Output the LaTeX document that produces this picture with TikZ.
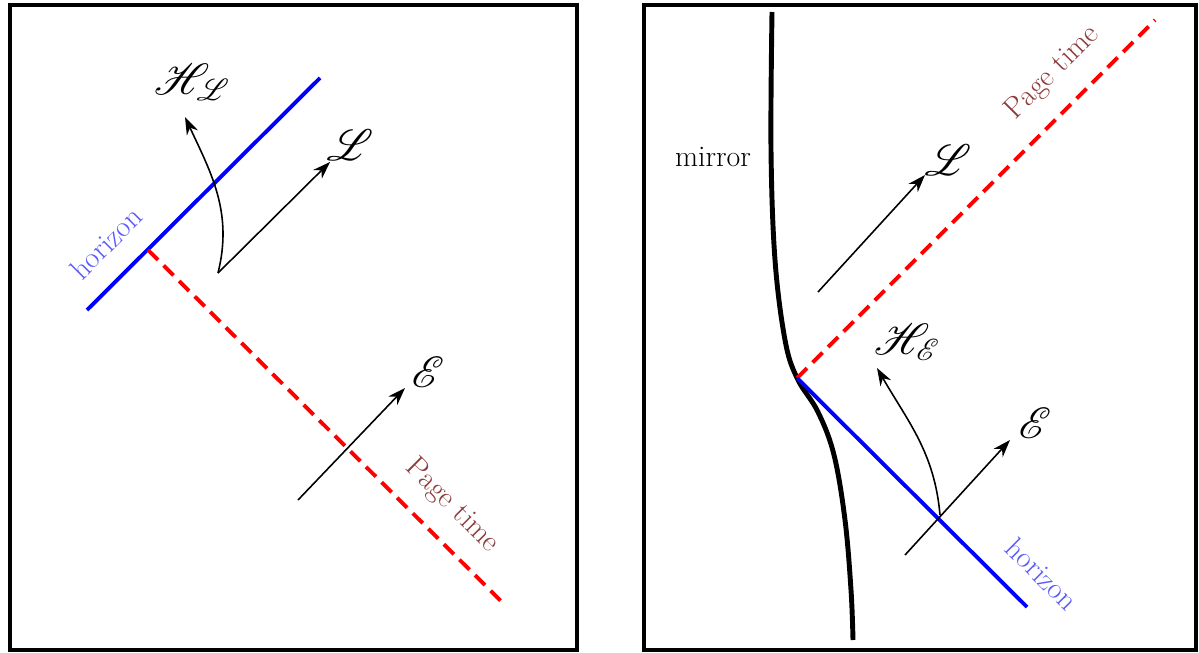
\documentclass[tikz,border=0pt]{standalone}
\usepackage{mathrsfs}
\usetikzlibrary{arrows.meta, positioning, calc}
\definecolor{horizonblue}{RGB}{0, 0, 255}
\definecolor{labelblue}{RGB}{90, 90, 250}
\definecolor{pagered}{RGB}{255, 0, 0}
\definecolor{labelbrown}{RGB}{140, 60, 60}

\begin{document}
\begin{tikzpicture}[
  x=0.02cm, y=0.02cm,
  frame/.style={draw=black, line width=2.2pt},
  hline/.style={draw=horizonblue, line width=2.2pt},
  pline/.style={draw=pagered, line width=2.2pt, dash pattern=on 8pt off 4.5pt},
  mline/.style={draw=black, line width=2.8pt},
  arr/.style={-{Stealth[length=10pt, width=7pt]}, line width=0.9pt},
  lbl/.style={font=\fontsize{17}{20}\selectfont, inner sep=1pt},
  mlbl/.style={font=\fontsize{23}{26}\selectfont, inner sep=1pt},
  hlbl/.style={lbl, text=labelblue},
  plbl/.style={lbl, text=labelbrown}
]
\useasboundingbox (0,0) rectangle (1199,-652);

% left panel
\draw[frame] (10,-5) rectangle (577,-650);
\coordinate (lhA) at (87,-310);
\coordinate (lhB) at (320,-78);
\coordinate (lp0) at (148,-250);
\coordinate (lp1) at (505,-605);
\draw[hline] (lhA) -- (lhB);
\draw[pline] (lp0) -- (lp1);

\coordinate (lo) at (218,-273);
\node[mlbl] (lL) at (350,-145) {$\mathscr{L}$};
\node[mlbl] (lH) at (192,-82) {$\mathscr{H}_{\mathscr{L}}$};
\draw[arr] (lo) -- (330,-162) coordinate (lLend);
\draw[arr] (lo) to[out=76, in=-65] (185,-117) coordinate (lHend);

\coordinate (le) at (298,-500);
\node[mlbl] (lE) at (428,-372) {$\mathscr{E}$};
\draw[arr] (le) -- (405,-388) coordinate (lEend);

\node[hlbl, rotate=45] (lhor) at (106,-243) {horizon};
\node[plbl, rotate=-45] (lpt) at (452,-506) {Page time};

% right panel
\draw[frame] (644,-5) rectangle (1196,-650);
\draw[mline] plot[smooth, tension=0.6] coordinates {(772,-12) (771,-150) (775,-260) (785,-340) (797,-378) (818,-412) (834,-455) (845,-520) (851,-590) (853,-640)};
\coordinate (rc) at (797,-378);
\coordinate (rp1) at (1155,-20);
\coordinate (rh1) at (1027,-607);
\draw[pline] (rc) -- (rp1);
\draw[hline] (rc) -- (rh1);

\coordinate (ro) at (818,-292);
\node[mlbl] (rL) at (948,-160) {$\mathscr{L}$};
\draw[arr] (ro) -- (925,-175) coordinate (rLend);

\coordinate (re) at (905,-555);
\node[mlbl] (rE) at (1035,-423) {$\mathscr{E}$};
\draw[arr] (re) -- (1010,-440) coordinate (rEend);

\coordinate (rs) at (940,-515);
\node[mlbl] (rH) at (907,-342) {$\mathscr{H}_{\mathscr{E}}$};
\draw[arr] (rs) to[out=95, in=-60] (877,-368) coordinate (rHend);

\node[lbl] (mir) at (713,-157) {mirror};
\node[plbl, rotate=45] (rpt) at (1053,-73) {Page time};
\node[hlbl, rotate=-45] (rhor) at (1042,-574) {horizon};
\end{tikzpicture}
\end{document}
